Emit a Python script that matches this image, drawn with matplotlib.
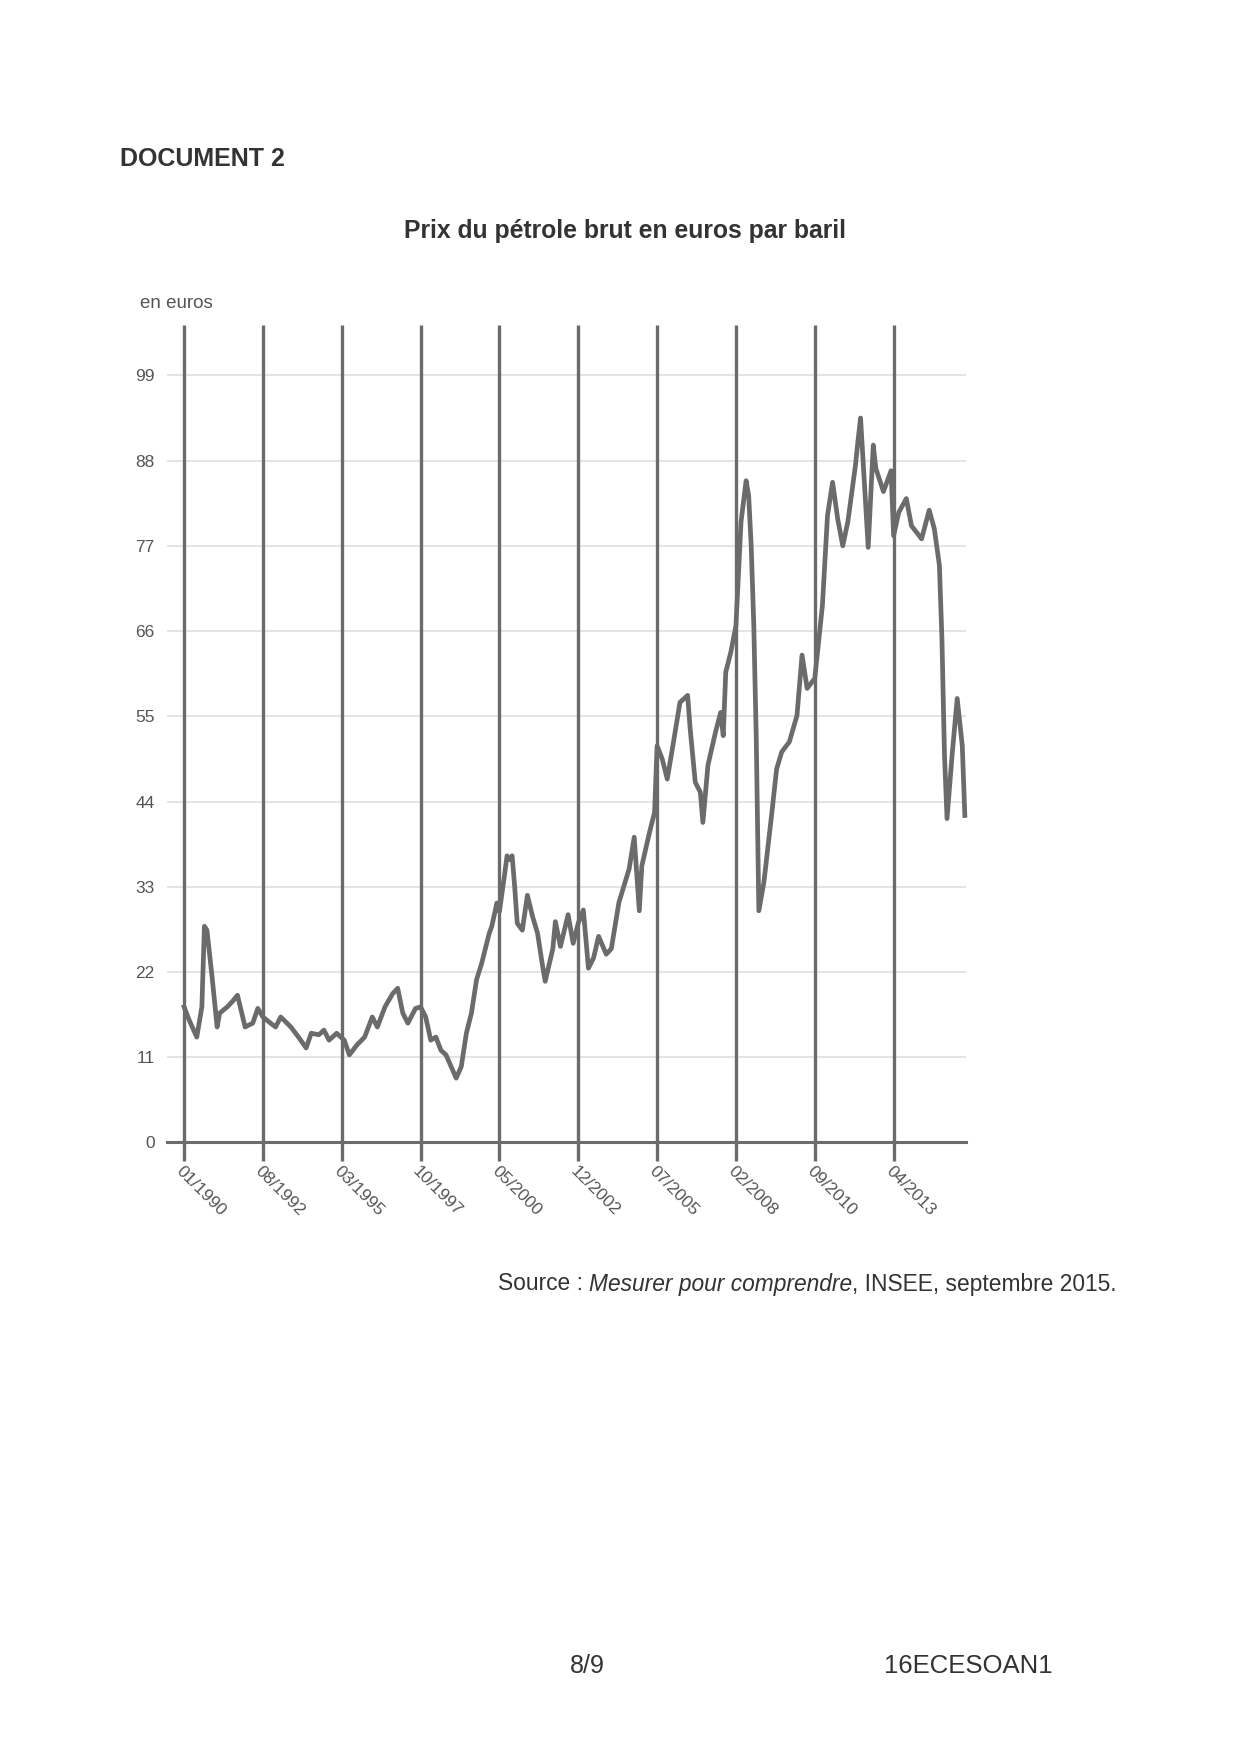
import matplotlib
matplotlib.use('Agg')
import matplotlib.pyplot as plt

plt.rcParams['font.family'] = ['Liberation Sans', 'DejaVu Sans']

# monthly Brent price in euros
dates = [
    '1990-01', '1990-03', '1990-06', '1990-08', '1990-09', '1990-10', '1990-12',
    '1991-02', '1991-03', '1991-06', '1991-08', '1991-10', '1992-01', '1992-04',
    '1992-06', '1992-08', '1992-11', '1993-01', '1993-03', '1993-07', '1993-10',
    '1994-01', '1994-03', '1994-06', '1994-08', '1994-10', '1995-01', '1995-04',
    '1995-06', '1995-09', '1995-12', '1996-03', '1996-05', '1996-08', '1996-11',
    '1997-01', '1997-03', '1997-05', '1997-08', '1997-10', '1997-12', '1998-02',
    '1998-04', '1998-06', '1998-08', '1998-10', '1998-12', '1999-02', '1999-04',
    '1999-06', '1999-08', '1999-10', '2000-01', '2000-02', '2000-04', '2000-05',
    '2000-07', '2000-08', '2000-09', '2000-10', '2000-11', '2000-12', '2001-02',
    '2001-04', '2001-06', '2001-08', '2001-10', '2001-11', '2002-02', '2002-03',
    '2002-05', '2002-08', '2002-10', '2002-12', '2003-02', '2003-04', '2003-06',
    '2003-08', '2003-11', '2004-01', '2004-04', '2004-08', '2004-10', '2004-12',
    '2005-01', '2005-04', '2005-06', '2005-07', '2005-09', '2005-11', '2006-01',
    '2006-04', '2006-07', '2006-08', '2006-10', '2006-12', '2007-01', '2007-03',
    '2007-06', '2007-08', '2007-09', '2007-10', '2007-12', '2008-02', '2008-04',
    '2008-06', '2008-07', '2008-08', '2008-09', '2008-10', '2008-11', '2009-01',
    '2009-04', '2009-06', '2009-08', '2009-11', '2010-02', '2010-04', '2010-06',
    '2010-09', '2010-12', '2011-02', '2011-04', '2011-06', '2011-08', '2011-10',
    '2012-01', '2012-02', '2012-03', '2012-04', '2012-06', '2012-08', '2012-09',
    '2012-12', '2013-03', '2013-04', '2013-06', '2013-09', '2013-11', '2014-03',
    '2014-06', '2014-08', '2014-10', '2014-11', '2014-12', '2015-01', '2015-03',
    '2015-05', '2015-07', '2015-08',
]
prices = [
    17.5, 15.8, 13.6, 17.5, 27.9, 27.4, 21.4,
    14.9, 16.7, 17.5, 18.2, 19.0, 14.9, 15.4,
    17.3, 16.2, 15.4, 14.9, 16.2, 14.9, 13.6,
    12.2, 14.1, 13.9, 14.5, 13.2, 14.1, 13.2,
    11.3, 12.6, 13.6, 16.2, 14.9, 17.5, 19.2,
    19.9, 16.7, 15.4, 17.3, 17.5, 16.2, 13.2,
    13.6, 11.9, 11.3, 9.8, 8.3, 9.8, 14.1,
    16.7, 21.0, 23.1, 27.0, 27.9, 30.9, 29.8,
    34.5, 37.0, 36.5, 37.0, 33.0, 28.3, 27.4,
    31.9, 29.2, 27.0, 22.7, 20.8, 25.0, 28.5,
    25.3, 29.4, 25.7, 28.3, 30.0, 22.5, 23.8,
    26.6, 24.3, 25.0, 31.0, 35.3, 39.4, 29.9,
    35.7, 40.0, 42.6, 51.2, 49.5, 46.9, 50.8,
    56.8, 57.7, 53.4, 46.5, 45.2, 41.3, 48.7,
    53.0, 55.5, 52.5, 60.7, 63.3, 66.7, 80.1,
    85.4, 83.5, 77.0, 67.0, 52.0, 29.9, 33.6,
    42.2, 48.2, 50.4, 51.7, 55.1, 62.9, 58.6,
    59.9, 69.3, 80.9, 85.2, 80.5, 77.0, 80.1,
    87.4, 90.6, 93.5, 88.0, 76.8, 90.0, 87.0,
    84.0, 86.7, 78.3, 81.3, 83.1, 79.6, 77.9,
    81.6, 79.2, 74.5, 65.0, 50.0, 41.8, 50.0,
    57.3, 51.2, 42.2,
]
tick_dates = ['1990-01', '1992-08', '1995-03', '1997-10', '2000-05',
              '2002-12', '2005-07', '2008-02', '2010-09', '2013-04']
y_ticks = [0, 11, 22, 33, 44, 55, 66, 77, 88, 99]


def month_index(s):
    y, m = s.split('-')
    return (int(y) - 1990) * 12 + int(m) - 1


def tick_label(s):
    y, m = s.split('-')
    return f'{m}/{y}'


line_c = '#6b6b6b'
text_c = '#333333'

fig = plt.figure(figsize=(12.4, 17.52), dpi=100)
ax = fig.add_axes([0.1347, 0.3479, 0.6440, 0.4666])

xs = [month_index(d) for d in dates]
tx = [month_index(d) for d in tick_dates]

for y in y_ticks[1:]:
    ax.axhline(y, color='#e4e4e4', lw=1.4, zorder=1)
ymax = 105.5
ax.vlines(tx, 0, ymax, color=line_c, lw=2.4, zorder=2)
ax.plot(xs, prices, color=line_c, lw=3.4, solid_joinstyle='round', zorder=3,
        clip_on=False)

ax.set_xlim(-6.7, 307.3)
ax.set_ylim(0, ymax)
ax.set_xticks(tx)
ax.set_xticklabels([tick_label(d) for d in tick_dates], rotation=-45,
                   ha='left', va='top', rotation_mode='anchor',
                   fontsize=12.5, color='#555555')
ax.set_yticks(y_ticks)
ax.set_yticklabels([str(v) for v in y_ticks], fontsize=12.5, color='#555555')
ax.tick_params(axis='x', length=14, width=2.4, color=line_c, pad=1)
ax.tick_params(axis='y', length=0, pad=9)
for s in ['left', 'right', 'top']:
    ax.spines[s].set_visible(False)
ax.spines['bottom'].set_color(line_c)
ax.spines['bottom'].set_linewidth(2.2)
ax.spines['bottom'].set_zorder(4)

fig.text(140 / 1240, 1 - 304 / 1752, 'en euros', fontsize=13.5, color='#555555',
         ha='left', va='center')
fig.text(120 / 1240, 1 - 159 / 1752, 'DOCUMENT 2', fontsize=18,
         fontweight='bold', color=text_c, ha='left', va='center')
fig.text(625 / 1240, 1 - 231 / 1752, 'Prix du pétrole brut en euros par baril',
         fontsize=17.8, fontweight='bold', color=text_c, ha='center', va='center')

# source line: regular / italic / regular pieces placed one after another
renderer = fig.canvas.get_renderer()
x0 = 498 / 1240
ys = 1 - 1284 / 1752
for txt, style in [('Source : ', 'normal'), ('Mesurer pour comprendre', 'italic'),
                   (', INSEE, septembre 2015.', 'normal')]:
    t = fig.text(x0, ys, txt, fontsize=16.4, style=style, color=text_c,
                 ha='left', va='center')
    bb = t.get_window_extent(renderer)
    x0 += bb.width / fig.bbox.width

fig.text(570 / 1240, 1 - 1666 / 1752, '8/9', fontsize=18, color=text_c,
         ha='left', va='center')
fig.text(884 / 1240, 1 - 1666 / 1752, '16ECESOAN1', fontsize=18.5, color=text_c,
         ha='left', va='center')

fig.savefig('out.png', dpi=100)
